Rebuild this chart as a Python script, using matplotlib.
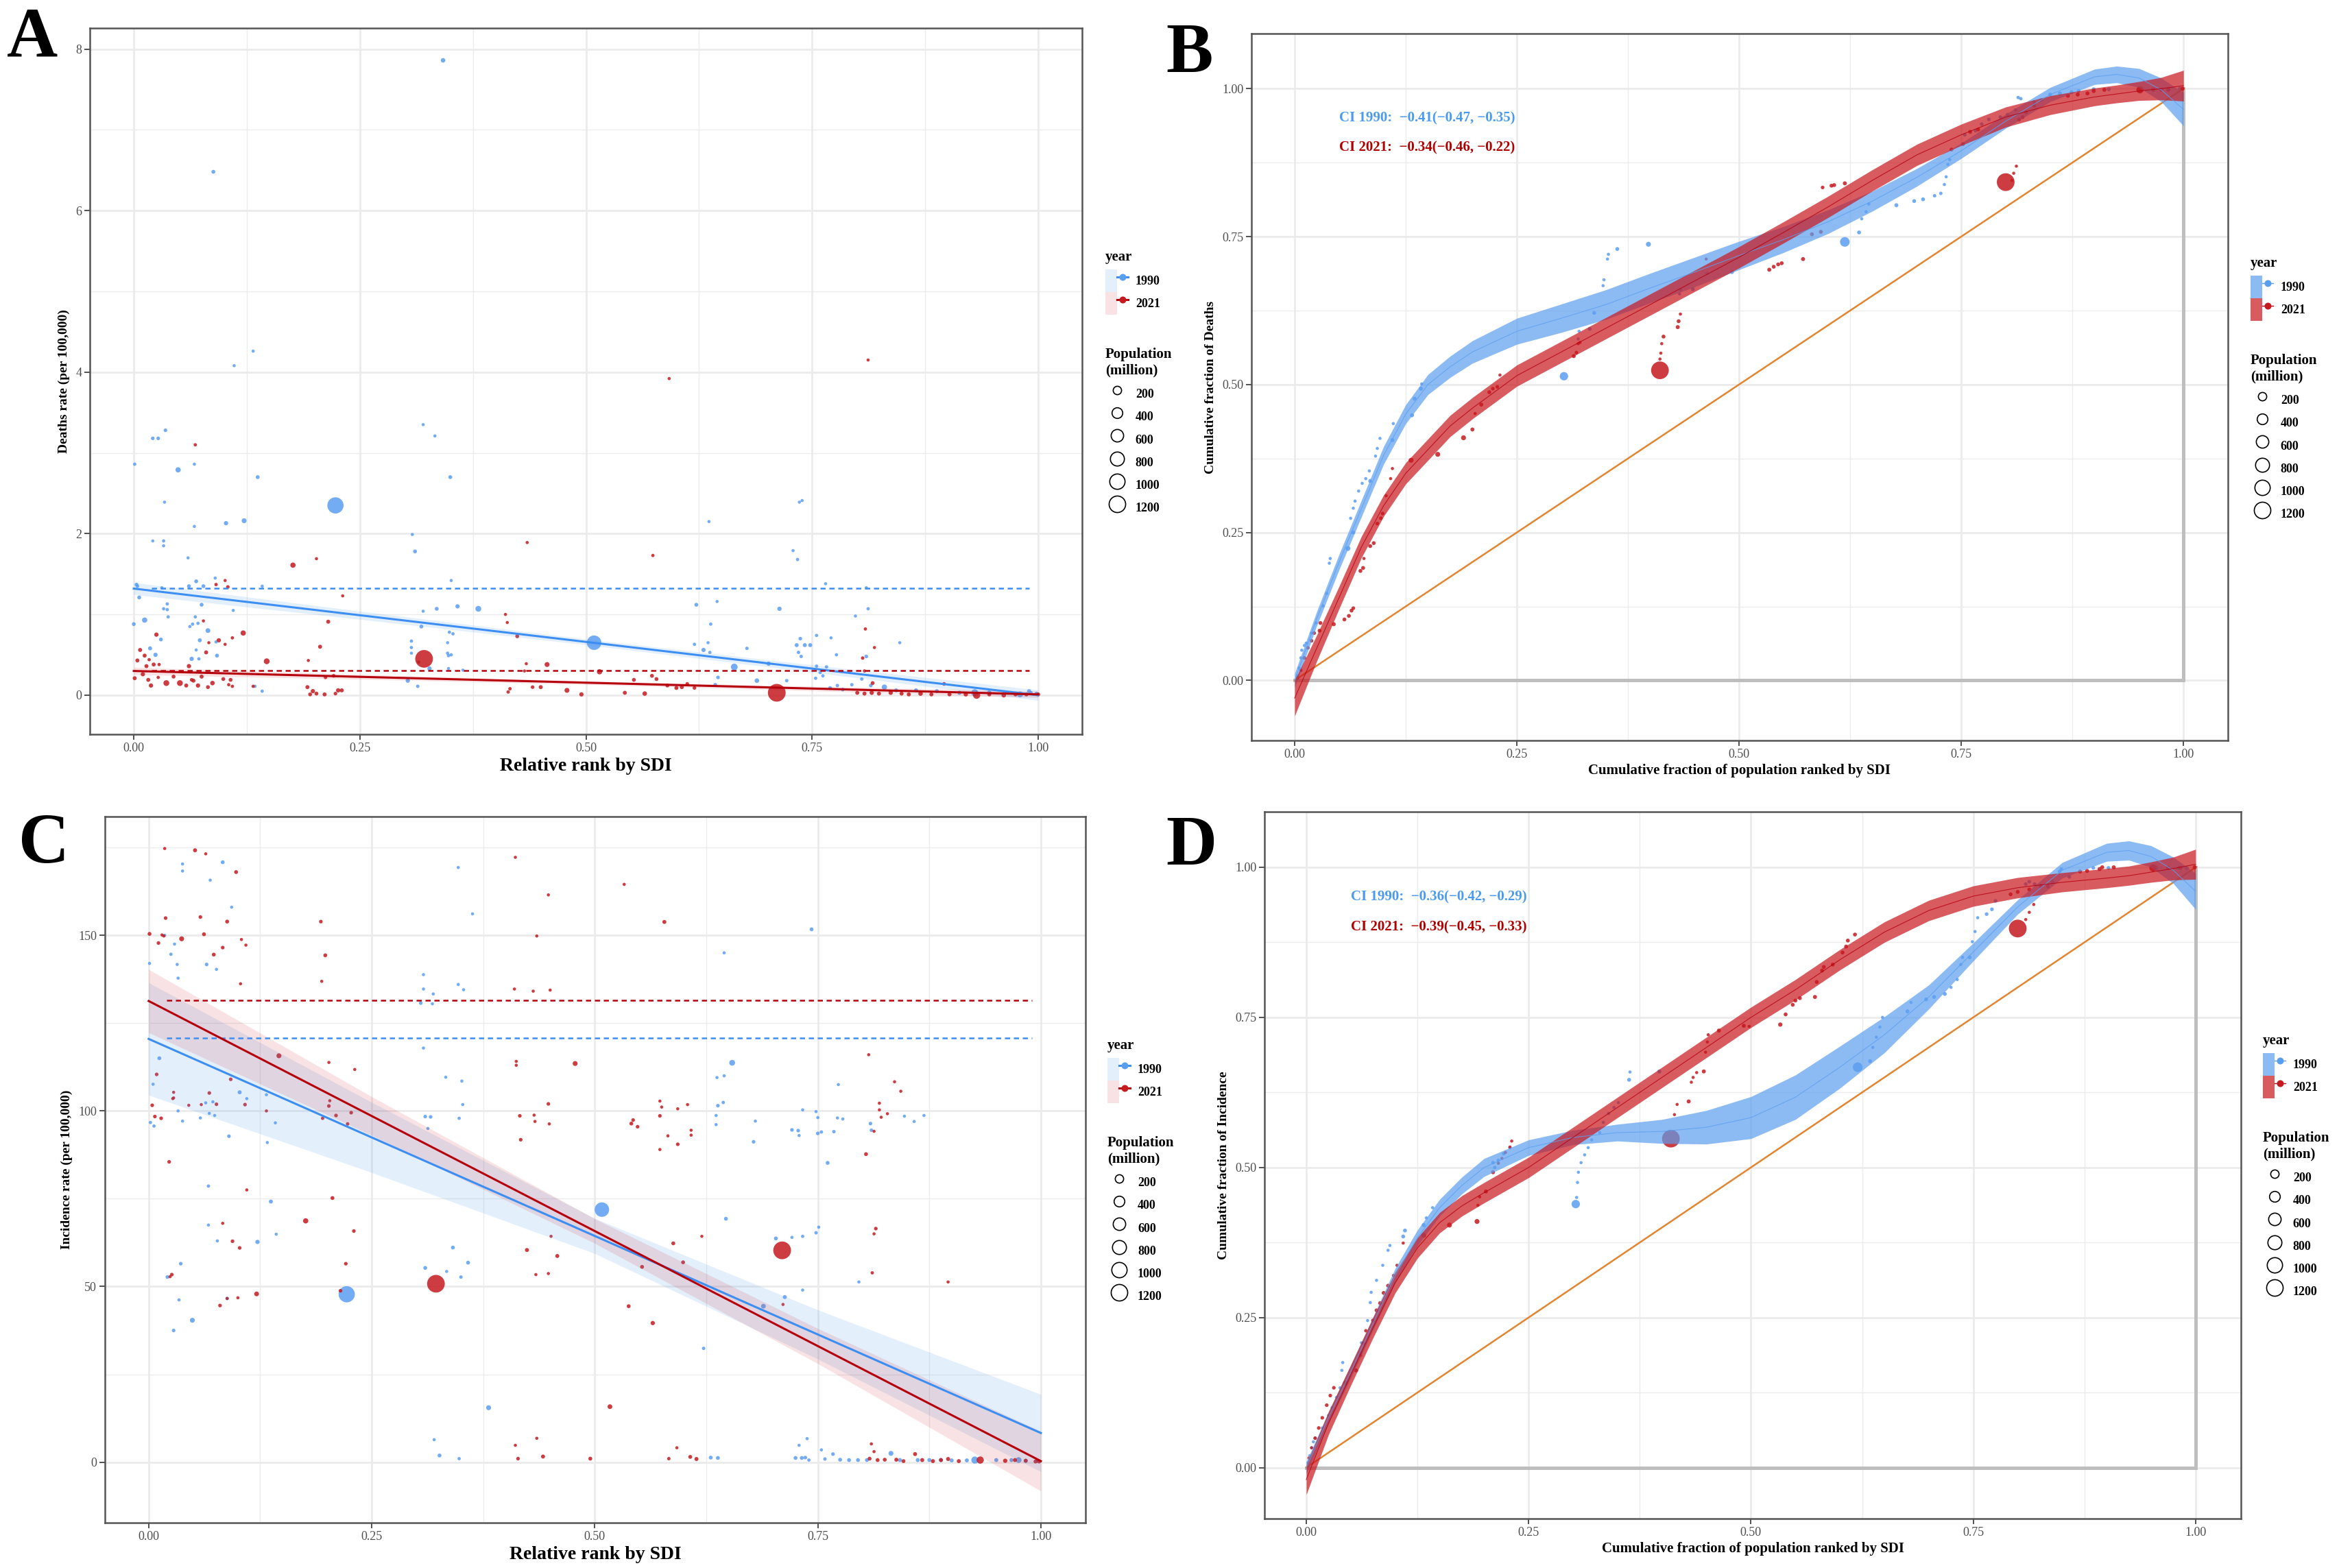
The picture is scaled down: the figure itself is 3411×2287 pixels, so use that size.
import numpy as np
import matplotlib
matplotlib.use("Agg")
import matplotlib.pyplot as plt
from matplotlib.lines import Line2D
from matplotlib.patches import Patch
from matplotlib.legend_handler import HandlerTuple
from matplotlib.ticker import FixedLocator, FuncFormatter

plt.rcParams['font.family'] = ['Liberation Serif', 'DejaVu Serif']

# --- figure setup ---
DPI = 200
W_PX, H_PX = 3411, 2287

BLUE_PT = '#5A9EF0'
RED_PT = '#C41A20'
BLUE_LINE = '#3D8EF2'
RED_LINE = '#B5000B'
BLUE_BAND = '#5C9FF0'
RED_BAND = '#C8161D'
GRID = '#EBEBEB'
TICK_COL = '#4D4D4D'

# --- data: (x, y, population in million) per country ---
A_1990 = [
    (0.342, 7.86, 20), (0.088, 6.48, 8), (0.132, 4.26, 1), (0.111, 4.08, 1), (0.035, 3.28, 5),
    (0.021, 3.18, 5), (0.027, 3.18, 5), (0.049, 2.79, 40), (0.067, 2.86, 1), (0.001, 2.86, 2),
    (0.137, 2.70, 8), (0.350, 2.70, 8), (0.223, 2.35, 1150), (0.034, 2.39, 1), (0.122, 2.16, 30),
    (0.102, 2.13, 15), (0.067, 2.09, 1), (0.320, 3.35, 1), (0.333, 3.21, 1), (0.308, 1.99, 1),
    (0.636, 2.15, 1), (0.736, 2.39, 1), (0.739, 2.41, 1), (0.729, 1.79, 1), (0.734, 1.68, 2),
    (0.765, 1.38, 1), (0.810, 1.33, 1), (0.509, 0.65, 870), (0.622, 1.12, 8), (0.645, 1.16, 1),
    (0.638, 0.88, 2), (0.635, 0.65, 1), (0.637, 0.53, 2), (0.620, 0.63, 2), (0.630, 0.56, 15),
    (0.664, 0.35, 100), (0.646, 0.22, 5), (0.643, 0.13, 5), (0.678, 0.58, 3), (0.689, 0.18, 20),
    (0.702, 0.39, 15), (0.714, 1.07, 15), (0.722, 0.18, 3), (0.733, 0.62, 10), (0.737, 0.70, 5),
    (0.742, 0.62, 10), (0.748, 0.62, 10), (0.735, 0.53, 3), (0.738, 0.48, 3), (0.755, 0.74, 2),
    (0.771, 0.71, 1), (0.777, 0.50, 2), (0.766, 0.35, 3), (0.755, 0.36, 2), (0.759, 0.28, 2),
    (0.762, 0.24, 2), (0.754, 0.21, 2), (0.770, 0.09, 5), (0.778, 0.12, 3), (0.784, 0.07, 5),
    (0.794, 0.13, 3), (0.798, 0.98, 1), (0.812, 1.07, 2), (0.810, 0.48, 5), (0.847, 0.65, 1),
    (0.805, 0.20, 3), (0.815, 0.12, 5), (0.830, 0.10, 40), (0.843, 0.06, 8), (0.865, 0.06, 10),
    (0.888, 0.05, 10), (0.913, 0.03, 10), (0.930, 0.03, 120), (0.946, 0.03, 20), (0.962, 0.02, 5),
    (0.990, 0.05, 10), (0.992, 0.03, 5), (0.998, 0.02, 5), (0.980, 0.01, 60),
    (0.021, 1.91, 1), (0.033, 1.91, 2), (0.033, 1.85, 1), (0.060, 1.70, 1), (0.003, 1.37, 5),
    (0.004, 1.35, 5), (0.031, 1.33, 1), (0.006, 1.21, 8), (0.069, 1.41, 8), (0.061, 1.35, 8),
    (0.077, 1.35, 8), (0.090, 1.45, 1), (0.075, 1.12, 8), (0.037, 1.13, 2), (0.033, 1.07, 2),
    (0.037, 1.06, 2), (0.038, 0.97, 2), (0.000, 0.88, 8), (0.012, 0.93, 40), (0.030, 0.69, 8),
    (0.018, 0.58, 10), (0.024, 0.50, 15), (0.068, 0.97, 2), (0.071, 0.89, 2), (0.065, 0.88, 2),
    (0.062, 0.85, 1), (0.082, 0.80, 25), (0.073, 0.68, 10), (0.091, 0.66, 2), (0.092, 0.49, 8),
    (0.064, 0.45, 15), (0.072, 0.45, 2), (0.069, 0.56, 1), (0.110, 1.05, 1), (0.142, 1.35, 1),
    (0.134, 0.11, 2), (0.142, 0.05, 2), (0.311, 1.78, 8), (0.335, 1.07, 8), (0.358, 1.10, 15),
    (0.381, 1.07, 60), (0.320, 1.04, 1), (0.318, 0.85, 8), (0.351, 1.42, 1), (0.349, 0.78, 2),
    (0.353, 0.76, 2), (0.347, 0.65, 1), (0.347, 0.52, 2), (0.348, 0.49, 2), (0.351, 0.50, 2),
    (0.307, 0.67, 2), (0.307, 0.59, 2), (0.307, 0.52, 1), (0.327, 0.33, 15), (0.348, 0.33, 1),
    (0.364, 0.31, 1), (0.303, 0.18, 15), (0.314, 0.11, 3),
]
A_2021 = [
    (0.812, 4.15, 1), (0.592, 3.92, 1), (0.068, 3.10, 2), (0.435, 1.89, 1), (0.574, 1.73, 2),
    (0.424, 0.73, 8), (0.411, 1.00, 1), (0.413, 0.90, 1), (0.457, 0.38, 30), (0.434, 0.39, 1),
    (0.432, 0.30, 1), (0.515, 0.29, 40), (0.573, 0.24, 8), (0.553, 0.19, 8), (0.578, 0.20, 8),
    (0.590, 0.12, 8), (0.600, 0.09, 10), (0.606, 0.10, 10), (0.612, 0.14, 5), (0.620, 0.09, 5),
    (0.711, 0.03, 1420), (0.809, 0.82, 2), (0.819, 0.59, 1), (0.806, 0.46, 3), (0.808, 0.30, 2),
    (0.817, 0.15, 8), (0.800, 0.03, 10), (0.808, 0.02, 10), (0.816, 0.03, 15), (0.824, 0.02, 10),
    (0.837, 0.03, 15), (0.849, 0.02, 10), (0.857, 0.01, 10), (0.870, 0.02, 20), (0.882, 0.01, 10),
    (0.896, 0.14, 5), (0.902, 0.01, 10), (0.920, 0.01, 15), (0.932, 0.00, 125), (0.946, 0.01, 10),
    (0.962, 0.00, 20), (0.975, 0.01, 10), (0.987, 0.01, 10), (1.000, 0.01, 10), (0.479, 0.06, 30),
    (0.495, 0.01, 15), (0.543, 0.03, 10), (0.565, 0.02, 20), (0.450, 0.10, 10), (0.441, 0.10, 5),
    (0.414, 0.04, 3), (0.416, 0.08, 3),
    (0.001, 0.21, 10), (0.004, 0.43, 10), (0.007, 0.56, 10), (0.010, 0.26, 15), (0.012, 0.49, 10),
    (0.014, 0.36, 10), (0.016, 0.19, 10), (0.017, 0.44, 2), (0.019, 0.12, 15), (0.022, 0.38, 10),
    (0.025, 0.75, 15), (0.027, 0.22, 2), (0.028, 0.38, 2), (0.036, 0.15, 60), (0.044, 0.23, 8),
    (0.051, 0.15, 60), (0.058, 0.12, 10), (0.061, 0.36, 15), (0.064, 0.19, 5), (0.066, 0.18, 10),
    (0.071, 0.12, 15), (0.075, 0.23, 10), (0.080, 0.53, 10), (0.082, 0.10, 8), (0.087, 0.15, 20),
    (0.091, 1.37, 3), (0.094, 0.68, 15), (0.099, 0.20, 8), (0.101, 1.42, 1), (0.104, 1.34, 5),
    (0.107, 0.19, 8), (0.109, 0.71, 2), (0.121, 0.77, 40), (0.105, 0.13, 2), (0.109, 0.11, 2),
    (0.083, 0.65, 1), (0.101, 0.63, 1), (0.077, 0.92, 1), (0.132, 0.11, 2), (0.147, 0.42, 60),
    (0.176, 1.61, 40), (0.202, 1.69, 1), (0.215, 0.91, 10), (0.206, 0.60, 10), (0.193, 0.43, 1),
    (0.212, 0.22, 3), (0.221, 0.24, 5), (0.192, 0.10, 10), (0.198, 0.05, 15), (0.195, 0.01, 8),
    (0.202, 0.02, 8), (0.211, 0.01, 10), (0.223, 0.02, 5), (0.226, 0.06, 15), (0.230, 0.06, 10),
    (0.231, 1.23, 1), (0.321, 0.45, 1410), (0.315, 0.41, 1),
]

C_1990 = [
    (0.083, 170.8, 8), (0.038, 170.3, 1), (0.038, 168.3, 1), (0.069, 165.7, 1), (0.347, 169.3, 1),
    (0.093, 158.0, 1), (0.363, 156.1, 1), (0.743, 151.7, 8), (0.018, 150.0, 1), (0.029, 147.5, 1),
    (0.025, 144.6, 2), (0.001, 142.0, 1), (0.032, 141.7, 1), (0.033, 137.8, 1), (0.065, 141.7, 5),
    (0.076, 140.3, 1), (0.645, 145.0, 1), (0.308, 138.8, 1), (0.308, 134.7, 1), (0.319, 133.3, 1),
    (0.318, 130.5, 1), (0.305, 130.7, 5), (0.347, 136.0, 1), (0.353, 134.5, 1), (0.308, 117.9, 1),
    (0.012, 115.0, 8), (0.005, 107.6, 1), (0.002, 96.7, 2), (0.006, 95.7, 2), (0.102, 105.3, 10),
    (0.110, 103.5, 1), (0.132, 104.6, 1), (0.333, 109.6, 1), (0.351, 108.5, 1), (0.352, 101.8, 1),
    (0.348, 97.9, 2), (0.310, 98.4, 5), (0.316, 98.3, 5), (0.313, 95.0, 1), (0.033, 100.0, 1),
    (0.038, 97.1, 1), (0.058, 98.0, 1), (0.068, 99.3, 1), (0.074, 98.7, 1), (0.064, 102.3, 1),
    (0.072, 102.6, 1), (0.090, 92.8, 5), (0.133, 91.0, 1), (0.142, 96.6, 1), (0.654, 113.7, 60),
    (0.637, 109.5, 1), (0.645, 110.0, 1), (0.638, 101.5, 5), (0.644, 102.4, 3), (0.636, 98.7, 1),
    (0.636, 96.1, 1), (0.680, 97.1, 1), (0.678, 91.2, 5), (0.733, 100.3, 1), (0.748, 99.8, 1),
    (0.750, 98.1, 1), (0.773, 107.5, 1), (0.721, 94.6, 5), (0.728, 94.4, 5), (0.729, 93.0, 1),
    (0.750, 93.6, 5), (0.754, 94.0, 3), (0.768, 94.1, 3), (0.761, 85.2, 8), (0.772, 98.0, 1),
    (0.778, 97.7, 1), (0.809, 96.4, 5), (0.810, 94.5, 3), (0.858, 97.0, 1), (0.869, 98.7, 1),
    (0.847, 98.5, 1), (0.508, 71.9, 870), (0.647, 69.3, 8), (0.721, 64.0, 1), (0.733, 64.3, 2),
    (0.748, 65.3, 3), (0.751, 66.9, 1), (0.703, 63.7, 8), (0.733, 49.0, 1), (0.713, 47.0, 10),
    (0.689, 44.4, 25), (0.796, 51.3, 1), (0.622, 32.4, 3), (0.222, 47.8, 1150), (0.341, 61.1, 8),
    (0.358, 56.8, 8), (0.310, 55.3, 8), (0.334, 54.3, 1), (0.350, 52.7, 3), (0.137, 74.2, 10),
    (0.122, 62.7, 15), (0.143, 64.9, 1), (0.036, 56.5, 5), (0.021, 52.7, 5), (0.034, 46.2, 1),
    (0.049, 40.4, 30), (0.028, 37.5, 5), (0.067, 78.6, 2), (0.067, 67.5, 1), (0.077, 63.0, 1),
    (0.088, 46.6, 3), (0.381, 15.5, 30), (0.326, 1.9, 8), (0.320, 6.4, 1), (0.348, 1.0, 2),
    (0.630, 1.3, 8), (0.638, 1.2, 8), (0.725, 1.2, 8), (0.732, 1.2, 8), (0.736, 1.3, 5),
    (0.740, 0.6, 2), (0.729, 4.8, 1), (0.738, 6.7, 1), (0.754, 3.5, 1), (0.758, 0.9, 3),
    (0.767, 2.3, 5), (0.775, 0.7, 8), (0.785, 0.6, 8), (0.795, 0.6, 8), (0.805, 0.6, 8),
    (0.832, 2.5, 30), (0.842, 0.6, 10), (0.862, 0.6, 10), (0.875, 0.6, 10), (0.888, 0.6, 10),
    (0.900, 0.5, 10), (0.917, 0.5, 10), (0.926, 0.6, 120), (0.950, 0.6, 10), (0.967, 0.6, 10),
    (0.975, 0.6, 60), (0.983, 0.4, 10), (0.996, 0.4, 10),
]
C_2021 = [
    (0.018, 174.7, 1), (0.052, 174.2, 10), (0.064, 173.2, 1), (0.098, 168.0, 8), (0.411, 172.2, 1),
    (0.533, 164.5, 1), (0.448, 161.5, 1), (0.019, 154.9, 5), (0.058, 155.2, 5), (0.088, 153.9, 8),
    (0.193, 153.9, 5), (0.578, 153.8, 10), (0.001, 150.4, 8), (0.062, 150.3, 8), (0.015, 150.1, 1),
    (0.017, 149.8, 1), (0.011, 147.8, 5), (0.037, 149.0, 30), (0.104, 148.8, 1), (0.109, 147.2, 1),
    (0.083, 146.5, 5), (0.073, 144.5, 8), (0.198, 144.3, 8), (0.435, 149.8, 1), (0.103, 136.2, 1),
    (0.194, 136.9, 1), (0.410, 134.7, 1), (0.431, 134.1, 1), (0.450, 134.4, 1), (0.146, 115.7, 30),
    (0.478, 113.5, 30), (0.412, 114.1, 1), (0.412, 113.0, 1), (0.231, 111.8, 1), (0.202, 113.8, 1),
    (0.807, 116.0, 1), (0.836, 108.3, 1), (0.843, 105.6, 1), (0.009, 110.4, 5), (0.028, 105.3, 1),
    (0.028, 103.7, 1), (0.068, 105.1, 5), (0.092, 109.0, 5), (0.004, 101.6, 5), (0.045, 101.6, 1),
    (0.059, 101.8, 1), (0.076, 101.9, 5), (0.108, 101.8, 5), (0.203, 102.9, 1), (0.202, 101.4, 5),
    (0.227, 99.5, 5), (0.210, 98.7, 5), (0.223, 96.3, 3), (0.007, 98.4, 5), (0.014, 97.9, 5),
    (0.027, 103.5, 1), (0.132, 100.0, 1), (0.195, 97.9, 3), (0.416, 98.6, 5), (0.432, 98.8, 1),
    (0.433, 97.0, 1), (0.448, 102.0, 5), (0.449, 96.3, 1), (0.417, 91.8, 5), (0.543, 97.4, 5),
    (0.541, 96.4, 8), (0.548, 95.5, 5), (0.573, 98.6, 5), (0.573, 102.8, 1), (0.575, 101.1, 1),
    (0.593, 100.6, 1), (0.604, 101.8, 1), (0.582, 92.9, 1), (0.593, 90.5, 5), (0.608, 94.5, 1),
    (0.608, 93.1, 1), (0.573, 89.0, 1), (0.804, 87.7, 8), (0.813, 94.2, 1), (0.819, 102.2, 1),
    (0.819, 100.3, 1), (0.821, 98.2, 1), (0.828, 99.2, 1), (0.023, 85.5, 5), (0.110, 77.5, 1),
    (0.206, 75.2, 8), (0.176, 68.7, 40), (0.230, 65.8, 5), (0.083, 68.0, 1), (0.094, 62.9, 5),
    (0.102, 61.0, 5), (0.221, 56.5, 5), (0.026, 53.4, 5), (0.024, 52.8, 1), (0.100, 46.8, 1),
    (0.121, 47.9, 25), (0.080, 44.6, 5), (0.088, 46.6, 1), (0.215, 48.8, 5), (0.322, 50.8, 1410),
    (0.424, 60.4, 10), (0.458, 58.7, 10), (0.434, 53.4, 1), (0.448, 53.7, 1), (0.451, 64.3, 1),
    (0.588, 62.3, 8), (0.553, 55.6, 8), (0.599, 56.9, 8), (0.620, 64.3, 1), (0.538, 44.4, 8),
    (0.565, 39.6, 15), (0.517, 15.8, 25), (0.710, 60.3, 1420), (0.815, 66.5, 5), (0.813, 65.0, 1),
    (0.811, 53.9, 2), (0.896, 51.3, 1), (0.711, 44.9, 1), (0.411, 4.8, 1), (0.414, 1.0, 5),
    (0.435, 6.8, 1), (0.442, 1.6, 10), (0.495, 1.0, 8), (0.592, 4.1, 1), (0.583, 1.0, 3),
    (0.607, 1.5, 8), (0.614, 0.9, 10), (0.810, 5.2, 1), (0.813, 3.0, 1), (0.808, 1.0, 8),
    (0.817, 0.6, 8), (0.825, 0.7, 8), (0.838, 0.7, 10), (0.846, 0.3, 8), (0.859, 2.3, 10),
    (0.867, 0.6, 10), (0.879, 0.3, 10), (0.888, 0.6, 10), (0.896, 0.9, 10), (0.908, 0.3, 10),
    (0.932, 0.6, 125), (0.960, 0.4, 15), (0.971, 0.6, 10), (0.983, 0.4, 10), (0.994, 0.2, 10),
    (0.998, 0.2, 10),
]

B_1990 = [
    (0.003, 0.008, 1), (0.005, 0.021, 1), (0.007, 0.038, 1), (0.008, 0.051, 1), (0.011, 0.059, 1),
    (0.013, 0.063, 1), (0.019, 0.080, 1), (0.024, 0.097, 1), (0.032, 0.126, 1), (0.036, 0.147, 1),
    (0.039, 0.198, 1), (0.040, 0.206, 1), (0.060, 0.223, 30), (0.066, 0.250, 8), (0.063, 0.274, 1),
    (0.066, 0.291, 1), (0.068, 0.303, 1), (0.072, 0.320, 1), (0.076, 0.333, 1), (0.080, 0.341, 1),
    (0.084, 0.354, 1), (0.085, 0.337, 8), (0.091, 0.379, 1), (0.093, 0.392, 1), (0.096, 0.409, 1),
    (0.110, 0.406, 10), (0.111, 0.434, 1), (0.132, 0.448, 10), (0.135, 0.476, 10), (0.142, 0.493, 10),
    (0.143, 0.501, 1), (0.303, 0.514, 200), (0.320, 0.590, 1), (0.319, 0.577, 1), (0.332, 0.594, 8),
    (0.337, 0.621, 8), (0.347, 0.667, 1), (0.348, 0.677, 1), (0.352, 0.712, 1), (0.353, 0.720, 1),
    (0.363, 0.729, 8), (0.398, 0.737, 30), (0.433, 0.653, 1), (0.434, 0.660, 1), (0.448, 0.661, 8),
    (0.464, 0.688, 8), (0.492, 0.690, 10), (0.619, 0.741, 300), (0.635, 0.757, 8), (0.638, 0.780, 1),
    (0.643, 0.792, 1), (0.646, 0.805, 1), (0.677, 0.803, 10), (0.697, 0.810, 8), (0.707, 0.813, 8),
    (0.720, 0.819, 3), (0.727, 0.823, 3), (0.731, 0.838, 1), (0.733, 0.851, 1), (0.735, 0.872, 1),
    (0.737, 0.880, 1), (0.754, 0.922, 5), (0.766, 0.929, 5), (0.773, 0.940, 5), (0.781, 0.948, 5),
    (0.794, 0.952, 5), (0.802, 0.956, 5), (0.811, 0.964, 3), (0.817, 0.983, 3), (0.814, 0.985, 3),
    (0.832, 0.977, 8), (0.840, 0.981, 8), (0.850, 0.990, 8), (0.861, 0.992, 8), (0.874, 0.994, 8),
    (0.882, 0.996, 8), (0.899, 0.999, 8), (0.916, 0.999, 8), (0.951, 0.998, 60), (0.966, 0.999, 8),
    (0.983, 0.999, 8), (0.996, 1.000, 8),
]
B_2021 = [
    (0.003, 0.004, 1), (0.007, 0.017, 1), (0.011, 0.038, 5), (0.015, 0.055, 5), (0.019, 0.067, 5),
    (0.022, 0.080, 5), (0.028, 0.084, 8), (0.029, 0.097, 8), (0.044, 0.095, 10), (0.056, 0.103, 8),
    (0.061, 0.109, 8), (0.064, 0.118, 8), (0.066, 0.122, 5), (0.074, 0.185, 8), (0.077, 0.190, 8),
    (0.078, 0.206, 1), (0.085, 0.227, 8), (0.089, 0.232, 8), (0.093, 0.265, 5), (0.097, 0.274, 5),
    (0.099, 0.282, 5), (0.103, 0.312, 1), (0.108, 0.341, 1), (0.110, 0.358, 1), (0.131, 0.372, 30),
    (0.161, 0.382, 30), (0.190, 0.410, 30), (0.200, 0.424, 10), (0.203, 0.451, 1), (0.210, 0.466, 10),
    (0.219, 0.487, 8), (0.223, 0.493, 5), (0.228, 0.496, 5), (0.231, 0.516, 1), (0.314, 0.548, 10),
    (0.317, 0.554, 5), (0.319, 0.569, 1), (0.321, 0.571, 1), (0.411, 0.524, 1410), (0.411, 0.543, 1),
    (0.412, 0.553, 1), (0.413, 0.569, 1), (0.415, 0.581, 8), (0.431, 0.597, 10), (0.432, 0.607, 8),
    (0.434, 0.619, 1), (0.463, 0.712, 1), (0.534, 0.694, 10), (0.539, 0.699, 8), (0.544, 0.703, 8),
    (0.548, 0.705, 8), (0.572, 0.712, 10), (0.582, 0.754, 8), (0.592, 0.758, 8), (0.594, 0.833, 5),
    (0.604, 0.836, 8), (0.607, 0.837, 8), (0.619, 0.840, 10), (0.739, 0.897, 8), (0.752, 0.906, 8),
    (0.760, 0.927, 8), (0.769, 0.931, 8), (0.800, 0.842, 1420), (0.807, 0.845, 1), (0.809, 0.857, 1),
    (0.812, 0.869, 1), (0.815, 0.948, 8), (0.819, 0.952, 8), (0.823, 0.960, 8), (0.832, 0.971, 8),
    (0.870, 0.988, 10), (0.881, 0.990, 10), (0.892, 0.992, 10), (0.899, 0.996, 10), (0.911, 0.998, 10),
    (0.951, 0.998, 125), (0.966, 0.998, 10), (0.975, 0.998, 10), (0.983, 0.998, 10), (0.999, 1.000, 10),
]

D_1990 = [
    (0.002, 0.008, 1), (0.004, 0.020, 1), (0.006, 0.033, 1), (0.008, 0.043, 1), (0.010, 0.049, 1),
    (0.018, 0.066, 1), (0.025, 0.087, 1), (0.029, 0.100, 1), (0.034, 0.117, 1), (0.038, 0.133, 1),
    (0.040, 0.162, 1), (0.041, 0.175, 1), (0.061, 0.191, 1), (0.062, 0.208, 1), (0.069, 0.245, 1),
    (0.072, 0.275, 1), (0.073, 0.292, 1), (0.079, 0.312, 1), (0.086, 0.337, 1), (0.092, 0.362, 1),
    (0.094, 0.370, 1), (0.109, 0.385, 8), (0.111, 0.395, 8), (0.132, 0.404, 10), (0.135, 0.416, 1),
    (0.142, 0.433, 1), (0.210, 0.508, 3), (0.212, 0.500, 3), (0.216, 0.512, 3), (0.222, 0.523, 3),
    (0.229, 0.533, 3), (0.303, 0.439, 200), (0.304, 0.450, 1), (0.305, 0.475, 1), (0.306, 0.492, 1),
    (0.309, 0.508, 1), (0.313, 0.521, 1), (0.317, 0.533, 1), (0.321, 0.546, 1), (0.330, 0.558, 1),
    (0.334, 0.575, 1), (0.340, 0.590, 1), (0.346, 0.600, 1), (0.351, 0.608, 1), (0.363, 0.646, 8),
    (0.364, 0.659, 1), (0.397, 0.660, 10), (0.620, 0.667, 300), (0.634, 0.677, 8), (0.637, 0.700, 1),
    (0.641, 0.717, 1), (0.645, 0.734, 1), (0.648, 0.750, 1), (0.676, 0.760, 10), (0.680, 0.775, 1),
    (0.697, 0.780, 8), (0.706, 0.784, 8), (0.718, 0.789, 8), (0.725, 0.800, 1), (0.732, 0.813, 1),
    (0.736, 0.838, 1), (0.738, 0.850, 1), (0.746, 0.850, 8), (0.749, 0.876, 1), (0.752, 0.893, 1),
    (0.755, 0.916, 1), (0.765, 0.922, 5), (0.771, 0.930, 5), (0.775, 0.944, 5), (0.809, 0.972, 5),
    (0.813, 0.976, 5), (0.819, 0.972, 5), (0.826, 0.968, 5), (0.839, 0.976, 5), (0.847, 0.993, 5),
    (0.849, 0.997, 5), (0.858, 0.984, 5), (0.885, 0.999, 5), (0.902, 0.999, 5), (0.955, 0.999, 60),
    (0.969, 0.999, 8), (0.981, 0.999, 8), (0.990, 0.999, 8),
]
D_2021 = [
    (0.003, 0.016, 1), (0.006, 0.033, 1), (0.010, 0.049, 5), (0.014, 0.066, 5), (0.018, 0.083, 5),
    (0.023, 0.104, 5), (0.027, 0.120, 5), (0.031, 0.133, 5), (0.044, 0.141, 25), (0.056, 0.162, 10),
    (0.061, 0.187, 3), (0.064, 0.207, 3), (0.067, 0.228, 3), (0.075, 0.245, 8), (0.079, 0.262, 8),
    (0.083, 0.274, 8), (0.087, 0.291, 8), (0.092, 0.303, 8), (0.098, 0.320, 1), (0.102, 0.337, 1),
    (0.109, 0.374, 1), (0.132, 0.387, 30), (0.161, 0.404, 30), (0.192, 0.410, 30), (0.193, 0.437, 1),
    (0.195, 0.451, 1), (0.202, 0.460, 10), (0.210, 0.492, 10), (0.216, 0.507, 1), (0.220, 0.515, 1),
    (0.224, 0.525, 1), (0.229, 0.534, 1), (0.231, 0.544, 1), (0.410, 0.548, 1410), (0.414, 0.588, 1),
    (0.417, 0.605, 1), (0.430, 0.610, 10), (0.433, 0.642, 1), (0.435, 0.650, 1), (0.439, 0.658, 1),
    (0.447, 0.660, 10), (0.449, 0.692, 1), (0.451, 0.709, 1), (0.452, 0.721, 1), (0.464, 0.728, 10),
    (0.492, 0.736, 10), (0.498, 0.735, 1), (0.533, 0.738, 15), (0.539, 0.755, 8), (0.547, 0.771, 8),
    (0.550, 0.778, 8), (0.555, 0.782, 8), (0.572, 0.784, 10), (0.574, 0.809, 8), (0.580, 0.828, 8),
    (0.582, 0.834, 8), (0.592, 0.838, 8), (0.603, 0.858, 8), (0.607, 0.868, 8), (0.609, 0.878, 8),
    (0.617, 0.888, 8), (0.800, 0.898, 1420), (0.809, 0.913, 1), (0.813, 0.925, 1), (0.818, 0.938, 1),
    (0.792, 0.955, 8), (0.800, 0.959, 8), (0.813, 0.963, 8), (0.826, 0.969, 8), (0.834, 0.968, 8),
    (0.870, 0.993, 10), (0.878, 0.994, 10), (0.892, 0.997, 10), (0.895, 1.000, 10), (0.908, 1.000, 10),
    (0.952, 0.999, 125), (0.969, 0.999, 10), (0.983, 0.999, 10), (0.999, 1.000, 10),
]

# linear fits (value at x=0 and x=1) and CI half widths
FIT_X = [0.0, 1.0]
A_FIT_1990 = [1.32, 0.00]
A_FIT_2021 = [0.30, 0.01]
CI_X = [0.0, 0.25, 0.5, 0.75, 1.0]
A_CI_1990 = [0.075, 0.05, 0.035, 0.045, 0.065]
A_CI_2021 = [0.045, 0.03, 0.022, 0.028, 0.04]
A_REF = {'1990': 1.327, '2021': 0.303}
C_FIT_1990 = [120.5, 8.3]
C_FIT_2021 = [131.3, 0.3]
C_CI_1990 = [16.0, 10.0, 5.0, 7.0, 11.0]
C_CI_2021 = [9.0, 5.5, 3.5, 5.0, 8.5]
C_REF = {'1990': 120.7, '2021': 131.4}
REF_SPAN = [0.02, 0.99]

# smoothed concentration curves (centre and half width)
CURVE_X = [0, 0.025, 0.05, 0.075, 0.1, 0.125, 0.15, 0.175, 0.2, 0.25, 0.3, 0.35, 0.4, 0.45,
           0.5, 0.55, 0.6, 0.65, 0.7, 0.75, 0.8, 0.85, 0.9, 0.925, 0.95, 0.975, 1.0]
B_CURVE_1990 = [0.0, 0.105, 0.20, 0.29, 0.38, 0.45, 0.50, 0.53, 0.555, 0.59, 0.612, 0.635, 0.663,
                0.69, 0.718, 0.745, 0.775, 0.81, 0.85, 0.895, 0.945, 0.99, 1.02, 1.024, 1.018,
                0.998, 0.965]
B_WIDTH_1990 = [0.012, 0.012, 0.013, 0.014, 0.015, 0.016, 0.017, 0.018, 0.019, 0.022, 0.024,
                0.025, 0.025, 0.025, 0.024, 0.022, 0.02, 0.017, 0.015, 0.013, 0.012, 0.012,
                0.013, 0.014, 0.016, 0.02, 0.028]
B_CURVE_2021 = [-0.03, 0.055, 0.14, 0.225, 0.295, 0.35, 0.39, 0.43, 0.46, 0.515, 0.555, 0.595,
                0.635, 0.675, 0.715, 0.757, 0.80, 0.845, 0.888, 0.922, 0.952, 0.972, 0.986,
                0.991, 0.996, 1.0, 1.005]
B_WIDTH_2021 = [0.03, 0.022, 0.019, 0.018, 0.018, 0.018, 0.018, 0.018, 0.018, 0.018, 0.018,
                0.018, 0.018, 0.018, 0.018, 0.018, 0.018, 0.018, 0.018, 0.018, 0.017, 0.016,
                0.015, 0.015, 0.016, 0.019, 0.026]
D_CURVE_1990 = [0.0, 0.083, 0.16, 0.24, 0.32, 0.383, 0.433, 0.47, 0.50, 0.533, 0.55, 0.558, 0.56,
                0.567, 0.583, 0.617, 0.667, 0.721, 0.784, 0.859, 0.934, 0.995, 1.025, 1.028,
                1.018, 0.995, 0.96]
D_WIDTH_1990 = [0.01, 0.01, 0.011, 0.011, 0.012, 0.013, 0.014, 0.014, 0.015, 0.013, 0.012, 0.014,
                0.02, 0.028, 0.035, 0.037, 0.035, 0.03, 0.02, 0.015, 0.012, 0.013, 0.015, 0.016,
                0.018, 0.022, 0.03]
D_CURVE_2021 = [-0.02, 0.074, 0.154, 0.233, 0.308, 0.366, 0.408, 0.436, 0.458, 0.50, 0.55, 0.60,
                0.65, 0.70, 0.75, 0.796, 0.846, 0.892, 0.928, 0.952, 0.966, 0.975, 0.982, 0.986,
                0.992, 0.998, 1.005]
D_WIDTH_2021 = [0.025, 0.019, 0.017, 0.017, 0.017, 0.017, 0.017, 0.017, 0.017, 0.017, 0.017,
                0.017, 0.017, 0.017, 0.017, 0.017, 0.017, 0.017, 0.017, 0.017, 0.017, 0.016,
                0.016, 0.016, 0.017, 0.019, 0.025]

B_CI_TEXT = ['CI 1990:  \u22120.41(\u22120.47, \u22120.35)', 'CI 2021:  \u22120.34(\u22120.46, \u22120.22)']
D_CI_TEXT = ['CI 1990:  \u22120.36(\u22120.42, \u22120.29)', 'CI 2021:  \u22120.39(\u22120.45, \u22120.33)']

POP_LEGEND = [200, 400, 600, 800, 1000, 1200]
YEARS = ['1990', '2021']


def diam_pt(pop):
    return (4.0 + 0.58 * np.sqrt(np.asarray(pop, dtype=float))) * 72.0 / DPI


def px_box(left, top, right, bottom):
    return [left / W_PX, 1 - bottom / H_PX, (right - left) / W_PX, (bottom - top) / H_PX]


def style_axes(ax, xlim, ylim, major_y, fmt_y, xlabel, ylabel, xlab_size):
    ax.set_xlim(xlim)
    ax.set_ylim(ylim)
    major_x = [0, 0.25, 0.5, 0.75, 1.0]
    ax.xaxis.set_major_locator(FixedLocator(major_x))
    ax.xaxis.set_minor_locator(FixedLocator([0.125, 0.375, 0.625, 0.875]))
    ax.yaxis.set_major_locator(FixedLocator(major_y))
    step = major_y[1] - major_y[0]
    minors = [v + step / 2 for v in major_y] + [major_y[0] - step / 2]
    ax.yaxis.set_minor_locator(FixedLocator(minors))
    ax.xaxis.set_major_formatter(FuncFormatter(lambda v, p: f'{v:.2f}'))
    ax.yaxis.set_major_formatter(FuncFormatter(fmt_y))
    ax.grid(which='major', color=GRID, lw=1.0, zorder=0)
    ax.grid(which='minor', color=GRID, lw=0.5, zorder=0)
    ax.set_axisbelow(True)
    ax.tick_params(which='major', length=2.75, width=0.6, color='#333333', labelsize=6.5,
                   labelcolor=TICK_COL, pad=1.5)
    ax.tick_params(which='minor', length=0)
    for s in ax.spines.values():
        s.set_color('#555555')
        s.set_linewidth(0.9)
    ax.set_xlabel(xlabel, fontsize=xlab_size, fontweight='bold', labelpad=2)
    ax.set_ylabel(ylabel, fontsize=7, fontweight='bold', labelpad=3)


def scatter_series(ax, pts, color, z=3):
    x, y, p = zip(*pts)
    ax.scatter(x, y, s=diam_pt(p) ** 2, c=color, alpha=0.85, linewidths=0, zorder=z)


def add_legends(fig, left_px, top_px, key_style):
    if key_style == 'light':
        bg = [(BLUE_BAND, 0.16), (RED_BAND, 0.12)]
        lines = [(BLUE_LINE, 1.1), (RED_LINE, 1.1)]
    else:
        bg = [(BLUE_BAND, 0.7), (RED_BAND, 0.7)]
        lines = [(BLUE_PT, 0.5), (RED_LINE, 0.5)]
    dots = [BLUE_PT, RED_PT]
    common = dict(loc='upper left', frameon=False, fontsize=6.5, handlelength=1.83,
                  handleheight=2.44, labelspacing=0.0, handletextpad=0.6, borderpad=0,
                  borderaxespad=0, alignment='left',
                  title_fontproperties={'weight': 'bold', 'size': 7.5})
    handles = []
    for (bc, ba), (lc, lw), dc in zip(bg, lines, dots):
        patch = Patch(facecolor=bc, alpha=ba, edgecolor='none')
        line = Line2D([], [], color=lc, lw=lw, marker='o', markersize=2.6,
                      markerfacecolor=dc, markeredgecolor=dc)
        handles.append((patch, line))
    leg1 = fig.legend(handles, YEARS, handler_map={tuple: HandlerTuple(ndivide=None, pad=0)},
                      bbox_to_anchor=(left_px / W_PX, 1 - top_px / H_PX), title='year', **common)
    circles = [Line2D([], [], ls='none', marker='o', markersize=float(diam_pt(p)),
                      markerfacecolor='none', markeredgecolor='black', markeredgewidth=0.6)
               for p in POP_LEGEND]
    leg2 = fig.legend(circles, [str(p) for p in POP_LEGEND],
                      bbox_to_anchor=(left_px / W_PX, 1 - (top_px + 142) / H_PX),
                      title='Population\n(million)', **common)
    for leg in (leg1, leg2):
        leg._legend_box.sep = 3.0  # gap between title and keys (points)
        for t in leg.get_texts():
            t.set_fontweight('bold')


def draw_rate_panel(ax, pts90, pts21, fit90, fit21, ci90, ci21, ref):
    scatter_series(ax, pts90, BLUE_PT)
    scatter_series(ax, pts21, RED_PT)
    cx = np.array(CI_X)
    for fit, ci, band, line, year, a in [(fit90, ci90, BLUE_BAND, BLUE_LINE, '1990', 0.16),
                                         (fit21, ci21, RED_BAND, RED_LINE, '2021', 0.12)]:
        centre = np.interp(cx, FIT_X, fit)
        ax.fill_between(cx, centre - np.array(ci), centre + np.array(ci), color=band,
                        alpha=a, lw=0, zorder=4)
        ax.plot(FIT_X, fit, color=line, lw=1.1, zorder=5)
        ax.plot(REF_SPAN, [ref[year]] * 2, color=line, lw=0.9, ls=(0, (3, 2.2)), zorder=5)


def draw_curve_panel(ax, pts90, pts21, c90, w90, c21, w21, texts):
    ax.plot([0, 1, 1], [0, 0, 1], color='#BEBEBE', lw=1.8, zorder=2, solid_joinstyle='miter')
    ax.plot([0, 1], [0, 1], color='#E3842F', lw=0.9, zorder=2)
    scatter_series(ax, pts90, BLUE_PT)
    scatter_series(ax, pts21, RED_PT)
    cx = np.array(CURVE_X)
    for c, w, band, line in [(c90, w90, BLUE_BAND, '#5C9FF0'), (c21, w21, RED_BAND, '#B5000B')]:
        c = np.array(c)
        w = np.array(w)
        ax.fill_between(cx, c - w, c + w, color=band, alpha=0.7, lw=0, zorder=4)
        ax.plot(cx, c, color=line, lw=0.4, alpha=0.8, zorder=5)
    ax.text(0.05, 0.95, texts[0], color='#4A9BF0', fontsize=7.5, fontweight='bold',
            va='center', ha='left', zorder=6)
    ax.text(0.05, 0.90, texts[1], color='#B00000', fontsize=7.5, fontweight='bold',
            va='center', ha='left', zorder=6)


fig = plt.figure(figsize=(W_PX / DPI, H_PX / DPI), dpi=DPI)
fig.patch.set_facecolor('white')

ax_a = fig.add_axes(px_box(131, 41, 1578, 1071))
ax_b = fig.add_axes(px_box(1825, 49, 3249, 1080))
ax_c = fig.add_axes(px_box(153, 1191, 1583, 2221))
ax_d = fig.add_axes(px_box(1844, 1184, 3268, 2215))

draw_rate_panel(ax_a, A_1990, A_2021, A_FIT_1990, A_FIT_2021, A_CI_1990, A_CI_2021, A_REF)
style_axes(ax_a, (-0.0486, 1.0486), (-0.484, 8.259), [0, 2, 4, 6, 8],
           lambda v, p: f'{v:.0f}', 'Relative rank by SDI', 'Deaths rate (per 100,000)', 10)

draw_curve_panel(ax_b, B_1990, B_2021, B_CURVE_1990, B_WIDTH_1990, B_CURVE_2021, B_WIDTH_2021,
                 B_CI_TEXT)
style_axes(ax_b, (-0.0486, 1.050), (-0.1015, 1.093), [0, 0.25, 0.5, 0.75, 1.0],
           lambda v, p: f'{v:.2f}', 'Cumulative fraction of population ranked by SDI',
           'Cumulative fraction of Deaths', 7.5)

draw_rate_panel(ax_c, C_1990, C_2021, C_FIT_1990, C_FIT_2021, C_CI_1990, C_CI_2021, C_REF)
style_axes(ax_c, (-0.049, 1.050), (-17.25, 183.8), [0, 50, 100, 150],
           lambda v, p: f'{v:.0f}', 'Relative rank by SDI', 'Incidence rate (per 100,000)', 10)

draw_curve_panel(ax_d, D_1990, D_2021, D_CURVE_1990, D_WIDTH_1990, D_CURVE_2021, D_WIDTH_2021,
                 D_CI_TEXT)
style_axes(ax_d, (-0.047, 1.051), (-0.085, 1.0925), [0, 0.25, 0.5, 0.75, 1.0],
           lambda v, p: f'{v:.2f}', 'Cumulative fraction of population ranked by SDI',
           'Cumulative fraction of Incidence', 7.5)

add_legends(fig, 1612, 365, 'light')
add_legends(fig, 3282, 374, 'dark')
add_legends(fig, 1615, 1515, 'light')
add_legends(fig, 3300, 1508, 'dark')

for label, (lx, ly) in zip('ABCD', [(10, 82), (1700, 105), (27, 1258), (1700, 1261)]):
    fig.text(lx / W_PX, 1 - ly / H_PX, label, fontsize=37, fontweight='bold',
             ha='left', va='baseline')

fig.savefig('out.png', dpi=DPI, facecolor='white')
